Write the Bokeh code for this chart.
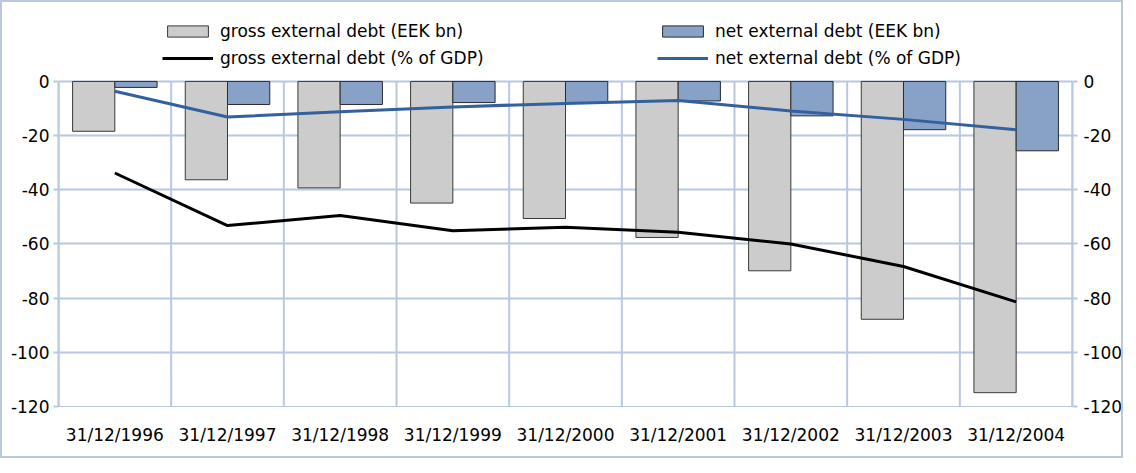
import numpy as np
from bokeh.plotting import figure
from bokeh.models import Range1d, LinearAxis, FixedTicker, Legend, LegendItem, ColumnDataSource
from bokeh.embed import file_html
from bokeh.resources import INLINE

dates = ["31/12/1996", "31/12/1997", "31/12/1998", "31/12/1999", "31/12/2000",
         "31/12/2001", "31/12/2002", "31/12/2003", "31/12/2004"]
gross_eek = [-18.4, -36.3, -39.3, -44.9, -50.6, -57.6, -69.9, -87.8, -114.9]
net_eek = [-2.2, -8.5, -8.5, -7.8, -7.8, -7.2, -12.7, -17.8, -25.6]
gross_gdp = [-33.8, -53.2, -49.5, -55.1, -53.8, -55.7, -60.0, -68.3, -81.4]
net_gdp = [-3.6, -13.1, -11.2, -9.4, -8.1, -7.0, -10.9, -14.0, -17.8]
y_ticks = [0, -20, -40, -60, -80, -100, -120]

FONT = "DejaVu Sans"
FS = "17px"
GRID = "#B8C8DF"
Y_MIN, Y_MAX = -120, 0
Y_TOP = 27.3   # empty headroom above the axis where the legend sits

xs = np.arange(len(dates)) + 0.5
bounds_x = np.arange(len(dates) + 1)
bar_w = 0.375
src = ColumnDataSource(dict(
    x=xs, xg=xs - bar_w / 2, xn=xs + bar_w / 2,
    gross_eek=gross_eek, net_eek=net_eek, gross_gdp=gross_gdp, net_gdp=net_gdp,
))

p = figure(width=1123, height=458, output_backend="svg", toolbar_location=None,
           x_range=Range1d(0, len(dates)), y_range=Range1d(Y_MIN, Y_TOP),
           min_border_left=56, min_border_right=49, min_border_top=5, min_border_bottom=54)
p.extra_y_ranges = {"pct": Range1d(Y_MIN, Y_TOP)}
p.outline_line_color = None
p.background_fill_color = "white"
p.border_fill_color = "white"
p.styles = {"border": "2px solid " + GRID}

# vertical grid lines at category boundaries, only within the value range
p.segment(x0=bounds_x, y0=Y_MIN, x1=bounds_x, y1=Y_MAX, line_color=GRID, line_width=2)

rg = p.vbar(x="xg", top=0, bottom="gross_eek", width=bar_w, source=src,
            fill_color="#CCCCCC", line_color="#3A3A3A", line_width=1)
rn = p.vbar(x="xn", top=0, bottom="net_eek", width=bar_w, source=src,
            fill_color="#88A2C7", line_color="#2A2A2A", line_width=1)
lg = p.line(x="x", y="gross_gdp", source=src, y_range_name="pct",
            line_color="black", line_width=3)
ln = p.line(x="x", y="net_gdp", source=src, y_range_name="pct",
            line_color="#33609E", line_width=3)

# axes
p.xaxis.ticker = FixedTicker(ticks=list(xs))
p.xaxis.major_label_overrides = {float(x): d for x, d in zip(xs, dates)}
p.xaxis.major_tick_line_color = None
p.xaxis.minor_tick_line_color = None
p.xaxis.axis_line_color = GRID
p.xaxis.major_label_standoff = 12

ax_r = LinearAxis(y_range_name="pct")
p.add_layout(ax_r, "right")
for ax in (p.yaxis[0], ax_r):
    ax.ticker = FixedTicker(ticks=y_ticks)
    ax.bounds = (Y_MIN, Y_MAX)
    ax.major_label_overrides = {t: str(t) for t in y_ticks}
    ax.axis_line_color = GRID
    ax.axis_line_width = 2
    ax.major_tick_line_color = GRID
    ax.major_tick_line_width = 2
    ax.major_tick_out = 5
    ax.major_tick_in = 0
    ax.minor_tick_line_color = None
p.yaxis[0].major_label_standoff = 4
ax_r.major_label_standoff = 6

for ax in p.xaxis + p.yaxis:
    ax.major_label_text_font = FONT
    ax.major_label_text_font_size = FS
    ax.major_label_text_color = "black"

p.xgrid.visible = False
p.ygrid.ticker = FixedTicker(ticks=y_ticks)
p.ygrid.grid_line_color = GRID
p.ygrid.grid_line_width = 2

def make_legend(items, x):
    return Legend(items=items, location=(x, 338), orientation="vertical",
                  glyph_width=51, glyph_height=14, label_height=20, spacing=7,
                  label_standoff=7, padding=0, margin=0,
                  border_line_color=None, background_fill_alpha=0,
                  label_text_font=FONT, label_text_font_size=FS, label_text_color="black")

leg1 = make_legend([LegendItem(label="gross external debt (EEK bn)", renderers=[rg]),
                    LegendItem(label="gross external debt (% of GDP)", renderers=[lg])], 104)
leg2 = make_legend([LegendItem(label="net external debt (EEK bn)", renderers=[rn]),
                    LegendItem(label="net external debt (% of GDP)", renderers=[ln])], 599)
p.add_layout(leg1)
p.add_layout(leg2)

open("out.html", "w").write(file_html(p, INLINE))
